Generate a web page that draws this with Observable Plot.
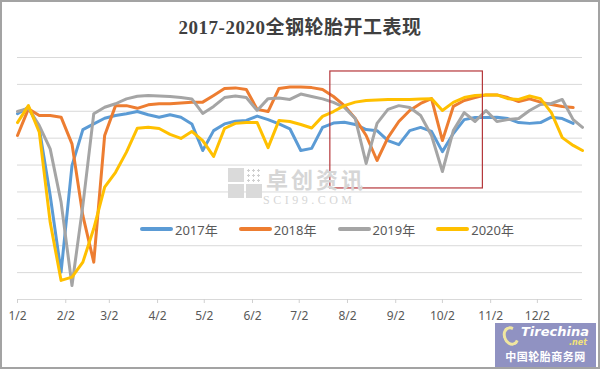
<!DOCTYPE html>
<html>
<head>
<meta charset="utf-8">
<script src="https://cdn.jsdelivr.net/npm/d3@7"></script>
<script src="https://cdn.jsdelivr.net/npm/@observablehq/plot@0.6"></script>
<style>
  body { margin: 0; background: #fff; }
  #wrap { position: relative; width: 600px; height: 369px; overflow: hidden; background: #fff;
          font-family: "Noto Sans", "Noto Sans CJK SC", sans-serif; }
  #frame { position: absolute; left: 0; top: 0; width: 600px; height: 369px; box-sizing: border-box;
           border: 2px solid #a3a3a3; pointer-events: none; z-index: 6; }
  #title { position: absolute; top: 12px; left: 0; width: 600px; text-align: center; line-height: 26px;
           font: bold 19px "Liberation Serif", "Noto Sans CJK SC", serif; letter-spacing: 0.5px; color: #404040; z-index: 3; }
  #chart { position: absolute; left: 0; top: 0; z-index: 1; }
  #legend { position: absolute; left: 140px; top: 220px; height: 18px; display: flex; gap: 21px; z-index: 3;
            font-size: 13px; color: #595959; }
  #legend .item { display: flex; align-items: center; }
  #legend .sw { width: 33px; height: 4px; border-radius: 2px; margin-right: 2px; }
  #wm { position: absolute; left: 228px; top: 166px; z-index: 2; color: #d6d6d6; }
  #wm .icon { position: absolute; left: 0; top: 2px; width: 34px; height: 30px; display: grid;
              grid-template-columns: 16px 16px; grid-template-rows: 14px 14px; gap: 2px; }
  #wm .icon div { background: #dadada; }
  #wm .icon div.dot { background: radial-gradient(circle, #cfcfcf 35%, transparent 40%) 0 0 / 5px 5px; }
  #wm .cn { position: absolute; left: 38px; top: 1px; font: bold 22px "Noto Sans CJK SC", sans-serif; line-height: 22px;
            white-space: nowrap; letter-spacing: 3px; }
  #wm .en { position: absolute; left: 35px; top: 29px; font: 12px "Liberation Serif", serif; line-height: 10px;
            white-space: nowrap; letter-spacing: 3.5px; }
  #logo { position: absolute; left: 495px; top: 323px; width: 101px; height: 44px; background: #9092c2; z-index: 4; color: #fff; }
  #logo .brand { position: absolute; left: 26px; top: 2px; font: italic bold 13px "DejaVu Sans", sans-serif; line-height: 14px; white-space: nowrap; }
  #logo .net { position: absolute; left: 74px; top: 16px; font: italic bold 8px "DejaVu Sans", sans-serif; line-height: 8px; color: #f3e27a; }
  #logo .swirl { position: absolute; left: 8px; top: 3px; width: 16px; height: 20px; border: 3px solid #f0e6a0; border-radius: 50%;
                 border-right-color: transparent; transform: rotate(-20deg); box-sizing: border-box; }
  #logo .cn { position: absolute; left: 0; top: 27px; width: 101px; text-align: center; font: bold 11px "Noto Sans CJK SC", sans-serif;
              line-height: 13px; letter-spacing: 0.5px; }
</style>
</head>
<body>
<div id="wrap">
  <div id="title">2017-2020全钢轮胎开工表现</div>
  <div id="chart"></div>
  <div id="wm">
    <div class="icon"><div></div><div class="dot"></div><div></div><div></div></div>
    <div class="cn">卓创资讯</div>
    <div class="en">SCI99.COM</div>
  </div>
  <div id="legend"></div>
  <div id="logo"><div class="swirl"></div><div class="brand">Tirechina</div><div class="net">.net</div><div class="cn">中国轮胎商务网</div></div>
  <div id="frame"></div>
</div>
<script>
// ---- data (weekly operating rate, %) ----
const weeks = [
  "01-02","01-09","01-16","01-23","01-30","02-06","02-13","02-20","02-27",
  "03-06","03-13","03-20","03-27","04-03","04-10","04-17","04-24",
  "05-01","05-08","05-15","05-22","05-29","06-05","06-12","06-19","06-26",
  "07-03","07-10","07-17","07-24","07-31","08-07","08-14","08-21","08-28",
  "09-04","09-11","09-18","09-25","10-02","10-09","10-16","10-23","10-30",
  "11-06","11-13","11-20","11-27","12-04","12-11","12-18","12-25","12-31"
];
const years = ["2017年", "2018年", "2019年", "2020年"];
const rate2017 = [69.1,71.5,63.6,38.7,10.2,49.8,63.2,65.3,67.4,68.4,69.1,69.9,68.7,67.8,68.7,67.8,65.3,
  55.4,62.8,65.3,66.3,66.6,68.2,66.9,65.3,63.5,55.4,56.2,64.0,65.6,65.9,65.1,63.2,62.8,59.1,57.6,62.8,
  64.0,62.5,55.0,61.7,66.9,67.7,67.7,67.8,67.3,65.8,65.5,65.8,67.8,67.3,65.5,null];
const rate2018 = [61.0,70.9,68.4,68.4,67.8,57.9,31.2,13.9,61.0,72.1,72.1,71.1,72.4,72.8,72.8,73.1,73.4,
  73.4,75.9,78.5,78.7,78.1,70.7,69.9,78.5,79.0,79.0,78.8,78.1,75.5,72.1,67.3,61.0,51.7,60.2,66.2,70.3,
  72.9,74.7,59.1,71.8,74.0,75.1,76.1,76.1,75.1,73.6,74.6,73.4,72.5,71.8,71.4,null];
const rate2019 = [69.9,71.1,64.7,56.0,36.2,5.2,35.0,69.1,71.5,72.8,74.6,75.6,75.9,75.7,75.5,75.1,74.6,
  69.2,71.8,75.1,75.7,75.1,70.3,74.7,74.9,74.4,76.4,75.5,74.6,73.3,71.4,67.3,50.6,65.5,70.7,72.1,71.4,
  68.4,61.0,47.6,62.8,69.5,66.2,70.3,66.2,66.9,67.3,70.3,72.5,72.9,74.4,66.9,64.0];
const rate2020 = [65.8,72.1,62.2,28.7,7.1,8.3,13.9,26.4,41.8,47.3,54.8,63.7,64.1,63.6,61.4,59.9,62.5,
  59.1,53.2,63.6,65.5,65.8,65.8,56.5,66.6,66.2,65.1,63.8,68.1,69.9,72.1,73.4,74.0,74.2,74.4,74.4,74.4,
  74.6,74.7,70.3,73.3,75.1,75.9,76.1,76.1,74.7,74.4,75.7,74.7,69.5,60.2,57.3,55.4];
const seriesColors = ["#5b9bd5", "#ed7d31", "#a5a5a5", "#ffc000"];
const monthTicks = ["01-02","02-02","03-02","04-02","05-02","06-02","07-02","08-02","09-02","10-02","11-02","12-02"];
const gridValues = [10, 20, 30, 40, 50, 60, 70, 80, 90];
const focusBox = { start: "07-22", end: "10-28", low: 41.3, high: 84.8 };

// ---- build ----
const parse = d3.utcParse("%Y-%m-%d");
const toDate = md => parse("2017-" + md);
const allRates = [rate2017, rate2018, rate2019, rate2020];
const rows = years.flatMap((name, i) =>
  weeks.map((w, j) => ({ date: toDate(w), value: allRates[i][j], series: name }))
       .filter(d => d.value != null));

const chart = Plot.plot({
  width: 600,
  height: 369,
  marginTop: 57,
  marginBottom: 70,
  marginLeft: 17,
  marginRight: 18,
  style: { fontFamily: '"Noto Sans", "Noto Sans CJK SC", sans-serif', fontSize: "12px", color: "#595959", background: "transparent" },
  x: { type: "utc", domain: [toDate("01-02"), toDate("12-31")] },
  y: { domain: [0, 90], axis: null },
  color: { domain: years, range: seriesColors },
  marks: [
    Plot.gridY(gridValues, { stroke: "#d9d9d9", strokeOpacity: 1 }),
    Plot.ruleY([0], { stroke: "#d9d9d9", strokeWidth: 1 }),
    Plot.axisX(monthTicks.map(toDate), {
      tickFormat: d => `${d.getUTCMonth() + 1}/${d.getUTCDate()}`,
      tickSize: 4, tickPadding: 8, stroke: "#d0d0d0", fill: "#595959", label: null
    }),
    Plot.line(rows, { x: "date", y: "value", z: "series", stroke: "series", strokeWidth: 3,
                      strokeLinejoin: "round", strokeLinecap: "round" }),
    Plot.rect([focusBox], { x1: d => toDate(d.start), x2: d => toDate(d.end), y1: "low", y2: "high",
                            fill: "none", stroke: "#b5373b", strokeWidth: 1.2 })
  ]
});
document.getElementById("chart").appendChild(chart);

// legend
const legend = document.getElementById("legend");
years.forEach((name, i) => {
  const item = document.createElement("div");
  item.className = "item";
  item.innerHTML = `<span class="sw" style="background:${seriesColors[i]}"></span><span>${name}</span>`;
  legend.appendChild(item);
});
</script>
</body>
</html>
